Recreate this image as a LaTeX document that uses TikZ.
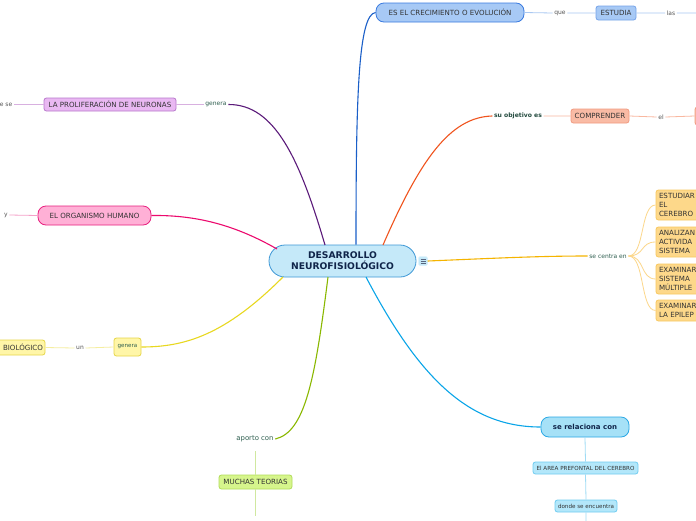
\documentclass[tikz,border=0pt]{standalone}
\usepackage{fontspec}
\setmainfont{DejaVu Sans}
\definecolor{cBlue}{HTML}{1A5FC8}\definecolor{cBlueF}{HTML}{A7C9F5}\definecolor{cBlueD}{HTML}{3A7BE0}\definecolor{cBlueL}{HTML}{A9C8F2}
\definecolor{cOr}{HTML}{F0541E}\definecolor{cOrF}{HTML}{F9BBA5}\definecolor{cOrD}{HTML}{F19A80}\definecolor{cOrL}{HTML}{F9B8A0}
\definecolor{cGold}{HTML}{F5B400}\definecolor{cGoldF}{HTML}{FDD88A}\definecolor{cGoldD}{HTML}{F8C860}\definecolor{cGoldL}{HTML}{FCD78A}
\definecolor{cCy}{HTML}{0AA5E8}\definecolor{cCyF}{HTML}{A6E1F7}\definecolor{cCyD}{HTML}{2AA8E5}\definecolor{cCyF2}{HTML}{B3E7FA}\definecolor{cCyD2}{HTML}{70CCF0}\definecolor{cCyL}{HTML}{A0DCF5}
\definecolor{cGr}{HTML}{8AB800}\definecolor{cGrF}{HTML}{D6F58C}\definecolor{cGrD}{HTML}{B2DC5A}\definecolor{cGrL}{HTML}{D0E8A0}
\definecolor{cYe}{HTML}{E8D820}\definecolor{cYeF}{HTML}{FFF6A8}\definecolor{cYeD}{HTML}{E6D648}\definecolor{cYeL}{HTML}{F5EEA0}
\definecolor{cPk}{HTML}{EC0A6E}\definecolor{cPkF}{HTML}{FFB0D6}\definecolor{cPkD}{HTML}{E8207F}\definecolor{cPkL}{HTML}{F5A0C8}
\definecolor{cPu}{HTML}{5B1A7A}\definecolor{cPuF}{HTML}{E9B8F2}\definecolor{cPuD}{HTML}{B878CC}\definecolor{cPuL}{HTML}{D8B0E0}
\definecolor{cCenF}{HTML}{C5E9F9}\definecolor{cCenD}{HTML}{3E98D6}\definecolor{cNavy}{HTML}{10254A}
\definecolor{cLab}{HTML}{2F5F50}\definecolor{cGray}{HTML}{555555}\definecolor{cTxt}{HTML}{333333}
\tikzset{
 box/.style={draw, line width=0.8pt, rounded corners=2.5pt, inner sep=0pt, align=center, text=cTxt, font=\fontsize{7.1}{9}\selectfont},
 pill/.style={box, rounded corners=8pt},
 lab/.style={inner sep=1.5pt, text=cLab, font=\fontsize{6}{7}\selectfont},
 glab/.style={inner sep=1.5pt, text=cGray, font=\fontsize{6}{7}\selectfont},
 branch/.style={line width=1.1pt},
 thin/.style={line width=0.8pt},
}
\begin{document}
\begin{tikzpicture}[x=1pt,y=-1pt]
\useasboundingbox (0,0) rectangle (696,520);
\clip (0,0) rectangle (696,520);
\fill[white] (0,0) rectangle (696,520);
% central
\node[draw=cCenD, fill=cCenF, line width=0.8pt, rounded corners=16pt, minimum width=147pt, minimum height=32pt, inner sep=0pt, align=center, text=cNavy, font=\fontsize{9.2}{11}\selectfont\bfseries] (cen) at (342.5,261) {DESARROLLO\\NEUROFISIOLÓGICO};
\node[fill=cCenF, draw=cCenF!70!white, rounded corners=1.5pt, minimum width=9pt, minimum height=9pt, inner sep=0pt] (icon) at (423,261) {};
\foreach \dy in {-2,0,2}{\draw[cNavy!70, line width=0.6pt] ([xshift=-2.5pt,yshift=\dy pt]icon.center) -- ([xshift=2.5pt,yshift=\dy pt]icon.center);}
% top blue
\node[pill, fill=cBlueF, draw=cBlueD, minimum width=148pt, minimum height=19pt] (grow) at (450,12.5) {ES EL CRECIMIENTO O EVOLUCIÓN};
\node[glab] (que) at (560,13) {que};
\node[box, fill=cBlueF, draw=cBlueD!70, minimum width=40pt, minimum height=14pt] (estudia) at (616,13) {ESTUDIA};
\node[glab] (las) at (671,13) {las};
\coordinate (lasend) at (700,13);
\draw[branch, cBlue] (cen.north -| 356,0) .. controls (356,100) and (358,14) .. (grow.west);
\draw[thin, cBlueL] (grow.east) -- (que.west) (que.east) -- (estudia.west) (estudia.east) -- (las.west) (las.east) -- (lasend);
% orange
\node[lab, text=cLab!80!black, font=\fontsize{6.1}{7}\selectfont\bfseries] (obj) at (518,116) {su objetivo es};
\node[box, fill=cOrF, draw=cOrD, minimum width=58pt, minimum height=14pt] (comp) at (600,116) {COMPRENDER};
\node[glab] (el) at (661,117) {el};
\node[box, fill=cOrF, draw=cOrD, minimum width=50pt, minimum height=18pt] (orx) at (720,116) {};
\draw[branch, cOr] (383,245) .. controls (420,160) and (450,117) .. (obj.west);
\draw[thin, cOrL] (obj.east) -- (comp.west) (comp.east) -- (el.west) (el.east) -- (orx.west);
% gold
\node[lab] (centra) at (608,256) {se centra en};
\node[box, fill=cGoldF, draw=cGoldD, minimum width=80pt, minimum height=30pt, text width=74pt, align=left] (g1) at (696,205) {ESTUDIAR\\EL\\CEREBRO};
\node[box, fill=cGoldF, draw=cGoldD, minimum width=80pt, minimum height=30pt, text width=74pt, align=left] (g2) at (696,242) {ANALIZAN\\ACTIVIDA\\SISTEMA};
\node[box, fill=cGoldF, draw=cGoldD, minimum width=80pt, minimum height=30pt, text width=74pt, align=left] (g3) at (696,279) {EXAMINAR\\SISTEMA\\MÚLTIPLE};
\node[box, fill=cGoldF, draw=cGoldD, minimum width=80pt, minimum height=21pt, text width=74pt, align=left] (g4) at (696,310.5) {EXAMINAR\\LA EPILEP};
\draw[branch, cGold] (icon.east) .. controls (500,258) and (540,256) .. (centra.west);
\foreach \g in {g1,g2,g3,g4}{\draw[thin, cGoldL] (centra.east) .. controls (645,256) and (640,0 |- \g.west) .. (\g.west);}
% cyan
\node[pill, fill=cCyF, draw=cCyD, minimum width=88pt, minimum height=20pt, text=cNavy, font=\fontsize{7}{8}\selectfont\bfseries] (rel) at (585,427) {se relaciona con};
\node[box, fill=cCyF2, draw=cCyD2, minimum width=105pt, minimum height=12pt, font=\fontsize{5.6}{6.5}\selectfont] (area) at (585.5,468) {El AREA PREFONTAL DEL CEREBRO};
\node[box, fill=cCyF2, draw=cCyD2, minimum width=62pt, minimum height=12pt, font=\fontsize{5.6}{6.5}\selectfont] (donde) at (586,506) {donde se encuentra};
\coordinate (dend) at (586,522);
\draw[branch, cCy] (366,277) .. controls (420,380) and (470,427) .. (rel.west);
\draw[thin, cCyL] (rel.south) -- (area.north) (area.south) -- (donde.north) (donde.south) -- (dend);
% green
\node[lab, font=\fontsize{6.9}{7.5}\selectfont] (aporto) at (255,439) {aporto con};
\node[box, fill=cGrF, draw=cGrD, minimum width=73pt, minimum height=14pt] (teor) at (255.5,482) {MUCHAS TEORIAS};
\coordinate (tend) at (255.5,516);
\draw[branch, cGr] (328,277) .. controls (315,380) and (305,432) .. (aporto.east);
\draw[thin, cGrL] (255.5,451) -- (teor.north) (teor.south) -- (tend);
% yellow
\node[box, fill=cYeF, draw=cYeD, minimum width=27pt, minimum height=18pt, font=\fontsize{5.6}{6.5}\selectfont, text=cLab] (gen2) at (127.5,347) {genera};
\node[glab] (un) at (80,348) {un};
\node[box, fill=cYeF, draw=cYeD, minimum width=70pt, minimum height=15pt, text width=66pt, align=right] (bio) at (10,347.5) {BIOLÓGICO};
\draw[branch, cYe] (283,277) .. controls (225,335) and (185,347) .. (gen2.east);
\draw[thin, cYeL] (gen2.west) -- (un.east) (un.west) -- (bio.east);
% pink
\node[pill, fill=cPkF, draw=cPkD, minimum width=113pt, minimum height=19pt] (org) at (94.5,215.5) {EL ORGANISMO HUMANO};
\node[glab] (y) at (6,215) {y};
\draw[branch, cPk] (277,249) .. controls (230,222) and (190,215) .. (org.east);
\draw[thin, cPkL] (org.west) -- (y.east);
% purple
\node[lab] (gen1) at (216,104.5) {genera};
\node[box, fill=cPuF, draw=cPuD, minimum width=132pt, minimum height=13pt] (prol) at (110,104.5) {LA PROLIFERACIÓN DE NEURONAS};
\node[glab, anchor=east] (ese) at (14,104.5) {e se};
\draw[branch, cPu] (325,245) .. controls (300,160) and (275,104) .. (gen1.east);
\draw[thin, cPuL] (gen1.west) -- (prol.east) (prol.west) -- (ese.east);
\end{tikzpicture}
\end{document}
